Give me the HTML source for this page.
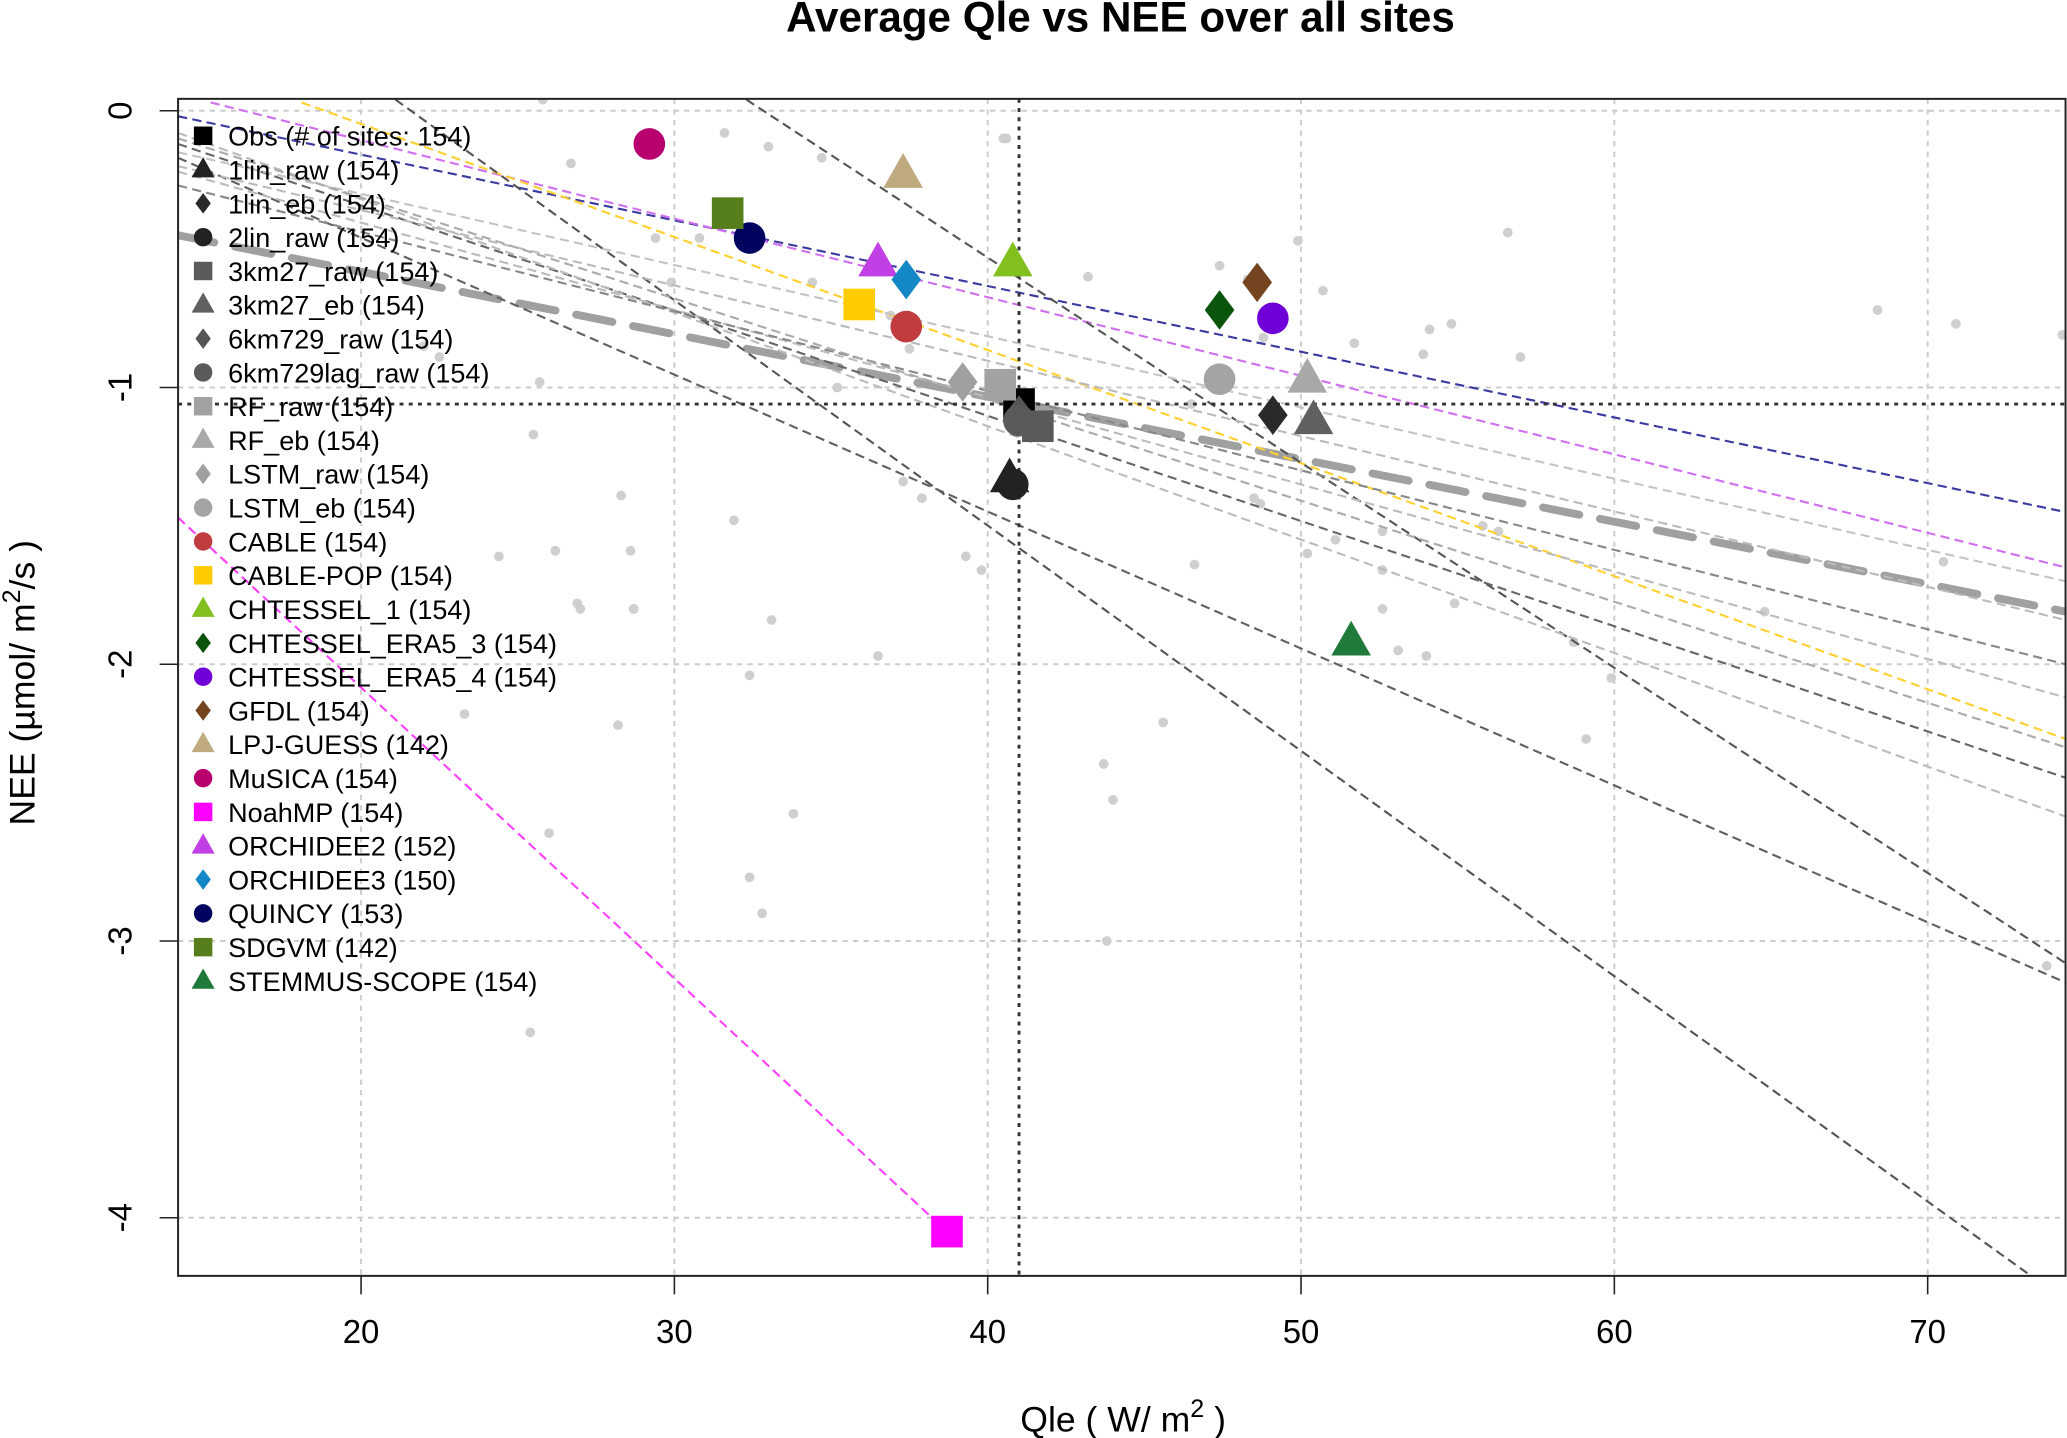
<!DOCTYPE html>
<html><head><meta charset="utf-8"><style>
html,body{margin:0;padding:0;background:#fff;}
svg{display:block;font-family:"Liberation Sans",Arial,sans-serif;}
</style></head><body>
<svg id="chart" width="2067" height="1438" viewBox="0 0 1568 1091" xmlns="http://www.w3.org/2000/svg">
<text x="850" y="24" text-anchor="middle" font-size="32" font-weight="bold">Average Qle vs NEE over all sites</text>
<g id="grid"></g>
<g id="dots"></g>
<g id="lines"></g>
<g id="refs"></g>
<g id="marks"></g>
<g id="legend"></g>
<rect x="135" y="75" width="1432" height="893" fill="none" stroke="#222" stroke-width="1.5"/>
<g id="axes"></g>
<text x="852" y="1086" text-anchor="middle" font-size="27">Qle  ( W/ m<tspan dy="-11" font-size="19">2</tspan><tspan dy="11"> )</tspan></text>
<text transform="translate(26,518) rotate(-90)" text-anchor="middle" font-size="27">NEE  (µmol/ m<tspan dy="-11" font-size="19">2</tspan><tspan dy="11">/s )</tspan></text>
</svg>
<script>
const xTicks=[20,30,40,50,60,70];
const yTicks=[0,-1,-2,-3,-4];
const models=["Obs (# of sites: 154)","1lin_raw (154)","1lin_eb (154)","2lin_raw (154)","3km27_raw (154)","3km27_eb (154)","6km729_raw (154)","6km729lag_raw (154)","RF_raw (154)","RF_eb (154)","LSTM_raw (154)","LSTM_eb (154)","CABLE (154)","CABLE-POP (154)","CHTESSEL_1 (154)","CHTESSEL_ERA5_3 (154)","CHTESSEL_ERA5_4 (154)","GFDL (154)","LPJ-GUESS (142)","MuSICA (154)","NoahMP (154)","ORCHIDEE2 (152)","ORCHIDEE3 (150)","QUINCY (153)","SDGVM (142)","STEMMUS-SCOPE (154)"];
const shapes=["s","t","d","c","s","t","d","c","s","t","d","c","c","s","t","d","c","d","t","c","s","t","d","c","s","t"];
const colors=["#000","#222","#2a2a2a","#222","#5a5a5a","#606060","#555","#5a5a5a","#a2a2a2","#a8a8a8","#a0a0a0","#a4a4a4","#c03c3e","#ffcc00","#82c020","#0b540b","#7000d8","#744420","#c0aa80","#b8006e","#ff00ff","#c040e6","#1487c6","#00045e","#567f1c","#1f7a3c"];
const qle=[41.0,40.7,49.1,40.8,41.6,50.4,41.0,41.0,40.4,50.2,39.2,47.4,37.4,35.9,40.8,47.4,49.1,48.6,37.3,29.2,38.7,36.5,37.4,32.4,31.7,51.6];
const nee=[-1.06,-1.33,-1.10,-1.35,-1.14,-1.12,-1.10,-1.12,-0.99,-0.97,-0.98,-0.97,-0.78,-0.70,-0.55,-0.72,-0.75,-0.62,-0.23,-0.12,-4.05,-0.55,-0.61,-0.46,-0.37,-1.92];
const lineX1=[14.16,14.16,15.2,18.1,14.16,21.1,32.3,14.16,14.16,14.16,14.16,14.16,14.16,14.16,14.16];
const lineY1=[-0.45,-0.02,0.03,0.03,-1.47,0.04,0.04,-0.17,-0.12,-0.08,-0.22,-0.27,-0.15,-0.20,-0.10];
const lineX2=[74.4,74.4,74.4,74.4,38.7,73.3,74.4,74.4,74.4,74.4,74.4,74.4,74.4,74.4,74.4];
const lineY2=[-1.81,-1.45,-1.65,-2.27,-4.05,-4.21,-3.08,-3.15,-2.41,-2.55,-2.12,-2.00,-1.70,-1.84,-2.30];
const lineCol=["#a0a0a0","#3a3aa0","#d070f0","#ffd030","#ff40ff","#555","#555","#606060","#666","#bbb","#bbb","#888","#c4c4c4","#bbb","#aaa"];
const dotX=[25.8,31.6,33.0,26.7,34.7,40.5,40.6,29.4,30.8,29.9,34.4,37.3,36.9,47.4,49.9,50.7,51.7,54.8,53.9,56.6,57.0,68.4,70.9,54.1,25.5,28.3,28.6,26.2,24.4,26.9,27.0,28.7,28.2,23.3,26.0,28.7,31.9,37.9,39.3,39.8,33.1,36.5,48.5,48.7,50.2,51.1,52.6,52.6,53.1,54.0,54.9,44.0,45.6,52.6,55.8,56.3,58.7,59.9,64.8,70.5,59.1,43.7,46.6,32.4,33.8,32.8,32.4,25.4,43.8,73.8,74.3,37.5,35.2,48.3,46.5,48.8,43.2,22.5,25.7,22.0];
const dotY=[0.04,-0.08,-0.13,-0.19,-0.17,-0.10,-0.10,-0.46,-0.46,-0.62,-0.62,-1.34,-0.74,-0.56,-0.47,-0.65,-0.84,-0.77,-0.88,-0.44,-0.89,-0.72,-0.77,-0.79,-1.17,-1.39,-1.59,-1.59,-1.61,-1.78,-1.80,-1.80,-2.22,-2.18,-2.61,-1.80,-1.48,-1.40,-1.61,-1.66,-1.84,-1.97,-1.40,-1.42,-1.60,-1.55,-1.66,-1.80,-1.95,-1.97,-1.78,-2.49,-2.21,-1.52,-1.50,-1.52,-1.92,-2.05,-1.81,-1.63,-2.27,-2.36,-1.64,-2.04,-2.54,-2.90,-2.77,-3.33,-3.00,-3.09,-0.81,-0.86,-1.00,-0.61,-1.06,-0.82,-0.60,-0.89,-0.98,-0.85];
const L=135,R=1567,T=75,B=968;
const X0=14.16,X1=74.4,Y0=-4.21,Y1=0.043;
const sx=v=>L+(v-X0)/(X1-X0)*(R-L);
const sy=v=>B-(v-Y0)/(Y1-Y0)*(B-T);
const NS="http://www.w3.org/2000/svg";
function mk(tag,parent,at){const e=document.createElementNS(NS,tag);for(const k in at)e.setAttribute(k,at[k]);parent.appendChild(e);return e;}
const g=id=>document.getElementById(id);
const defs=mk("defs",g("chart"),{});const cp=mk("clipPath",defs,{id:"clip"});mk("rect",cp,{x:L,y:T,width:R-L,height:B-T});
["grid","dots","lines","refs","marks"].forEach(i=>g(i).setAttribute("clip-path","url(#clip)"));
xTicks.forEach(v=>{const l=mk("line",g("grid"),{x1:sx(v),x2:sx(v),y1:T,y2:B,stroke:"#ccc","stroke-width":1.5,"stroke-dasharray":"4 4"});


const t=mk("line",g("axes"),{x1:sx(v),x2:sx(v),y1:B,y2:B+14,stroke:"#222","stroke-width":1.2});


const tx=mk("text",g("axes"),{x:sx(v),y:B+51,"text-anchor":"middle","font-size":25});tx.textContent=v;

});
yTicks.forEach(v=>{const l=mk("line",g("grid"),{x1:L,x2:R,y1:sy(v),y2:sy(v),stroke:"#ccc","stroke-width":1.5,"stroke-dasharray":"4 4"});


const t=mk("line",g("axes"),{x1:L-14,x2:L,y1:sy(v),y2:sy(v),stroke:"#222","stroke-width":1.2});


const tx=mk("text",g("axes"),{transform:`translate(${L-44},${sy(v)}) rotate(-90)`,"text-anchor":"middle","font-size":25,dy:"0.35em"});tx.textContent=v;

});
dotX.forEach((v,i)=>{const c=mk("circle",g("dots"),{cx:sx(v),cy:sy(dotY[i]),r:3.7,fill:"#cfcfcf"});

});
lineX1.forEach((v,i)=>{const thick=i===0;const l=mk("line",g("lines"),{x1:sx(v),y1:sy(lineY1[i]),x2:sx(lineX2[i]),y2:sy(lineY2[i]),stroke:lineCol[i],"stroke-width":thick?6:1.6,"stroke-dasharray":thick?"28 16":"7 4","stroke-linecap":thick?"round":"butt"});

});
const vr=mk("line",g("refs"),{x1:sx(qle[0]),x2:sx(qle[0]),y1:T,y2:B,stroke:"#333","stroke-width":2.2,"stroke-dasharray":"3 4"});


const hr=mk("line",g("refs"),{x1:L,x2:R,y1:sy(nee[0]),y2:sy(nee[0]),stroke:"#333","stroke-width":2.2,"stroke-dasharray":"3 4"});


function shape(p,s,cx,cy,r,col){let e;
if(s==="s")e=mk("rect",p,{x:cx-r,y:cy-r,width:2*r,height:2*r,fill:col});
else if(s==="c")e=mk("circle",p,{cx:cx,cy:cy,r:r,fill:col});
else if(s==="t")e=mk("polygon",p,{points:`${cx},${cy-r*1.35} ${cx-r*1.25},${cy+r*0.85} ${cx+r*1.25},${cy+r*0.85}`,fill:col});
else e=mk("polygon",p,{points:`${cx},${cy-r*1.2} ${cx+r*0.9},${cy} ${cx},${cy+r*1.2} ${cx-r*0.9},${cy}`,fill:col});
return e;}
qle.forEach((v,i)=>{const big=(shapes[i]==="d")?12.5:12;const e=shape(g("marks"),shapes[i],sx(v),sy(nee[i]),big,colors[i]);

});
models.forEach((m,i)=>{const y=103+i*25.65;const e=shape(g("legend"),shapes[i],154,y,shapes[i]==="d"?6.5:7,colors[i]);


const t=mk("text",g("legend"),{x:173,y:y+7.5,"font-size":20.5});t.textContent=m;

});
</script>
</body></html>
